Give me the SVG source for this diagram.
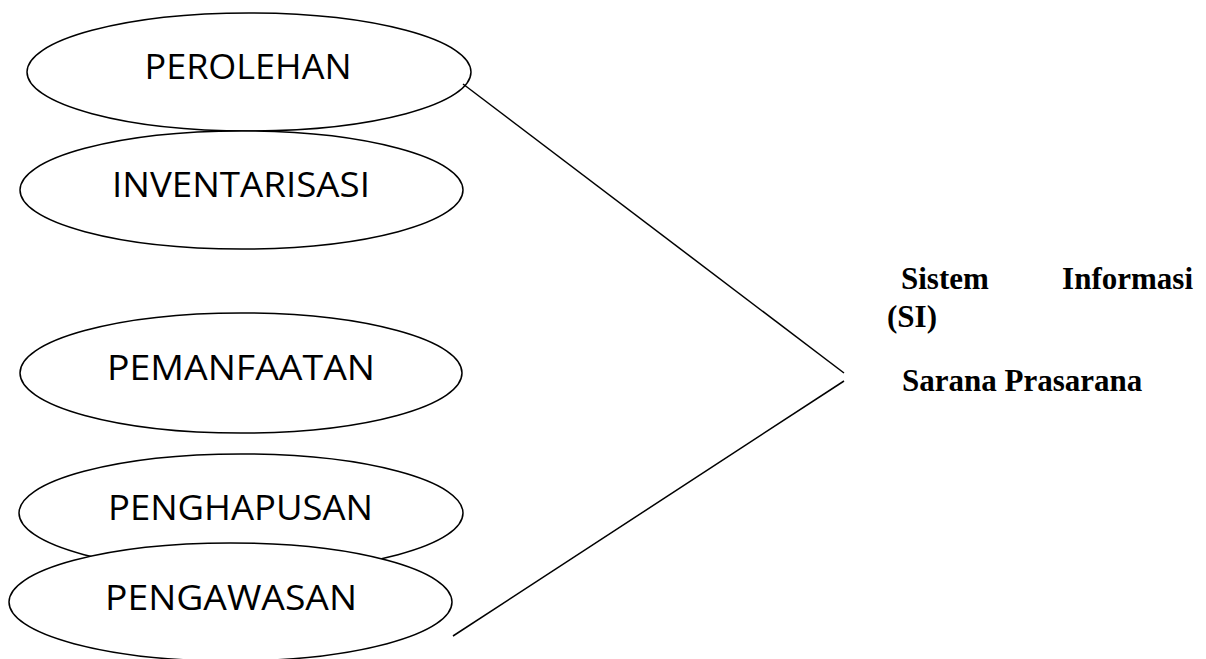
<svg xmlns="http://www.w3.org/2000/svg" width="1206" height="659" viewBox="0 0 1206 659">
<style>
.node ellipse{fill:#fff;stroke:#000;stroke-width:1.5}
.lbl{font-family:"Open Sans","Noto Sans",sans-serif;font-size:34px;fill:#000;text-anchor:middle}
.si{font-family:"Liberation Serif","Times New Roman",serif;font-size:31px;font-weight:bold;fill:#000}
.conn line{stroke:#000;stroke-width:1.5}
</style>
<rect width="1206" height="659" fill="#fff"/>
<g id="perolehan" class="node"><ellipse cx="249" cy="72" rx="222" ry="59"/><text class="lbl" x="248" y="79" textLength="207" lengthAdjust="spacingAndGlyphs">PEROLEHAN</text></g>
<g id="inventarisasi" class="node"><ellipse cx="241.5" cy="190" rx="221.5" ry="59"/><text class="lbl" x="241" y="197" textLength="258" lengthAdjust="spacingAndGlyphs">INVENTARISASI</text></g>
<g id="pemanfaatan" class="node"><ellipse cx="241" cy="373" rx="221" ry="60"/><text class="lbl" x="241" y="380" textLength="268" lengthAdjust="spacingAndGlyphs">PEMANFAATAN</text></g>
<g id="penghapusan" class="node"><ellipse cx="241" cy="513" rx="222" ry="59"/><text class="lbl" x="240.5" y="520" textLength="265" lengthAdjust="spacingAndGlyphs">PENGHAPUSAN</text></g>
<g id="pengawasan" class="node"><ellipse cx="230.5" cy="602" rx="221.5" ry="59"/><text class="lbl" x="231" y="610" textLength="252" lengthAdjust="spacingAndGlyphs">PENGAWASAN</text></g>
<g id="connectors" class="conn">
<line x1="463" y1="84" x2="844" y2="373"/>
<line x1="453" y1="636" x2="844" y2="381"/>
</g>
<g id="sistem-informasi">
<text class="si" x="901" y="289">Sistem</text>
<text class="si" x="1193" y="289" text-anchor="end">Informasi</text>
<text class="si" x="887" y="327">(SI)</text>
<text class="si" x="902" y="391">Sarana Prasarana</text>
</g>
</svg>
